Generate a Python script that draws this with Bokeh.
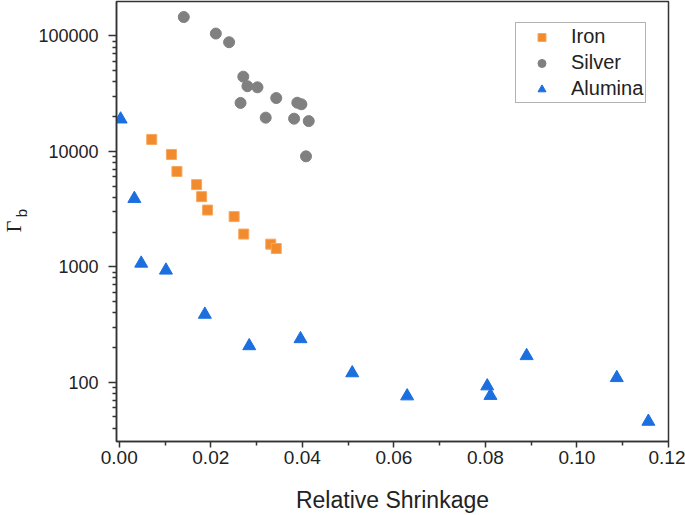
from bokeh.plotting import figure
from bokeh.models import (Range1d, FixedTicker, PrintfTickFormatter, LogAxis,
                          Legend, LegendItem)
from bokeh.embed import file_html
from bokeh.resources import INLINE

# ---- data ----
iron_x = [0.0071, 0.0114, 0.0126, 0.0169, 0.0180, 0.0193, 0.0251, 0.0272, 0.0331, 0.0343]
iron_y = [12700, 9400, 6700, 5150, 4050, 3100, 2720, 1920, 1570, 1440]

silver_x = [0.0141, 0.0211, 0.0240, 0.0271, 0.0280, 0.0302, 0.0265, 0.0343,
            0.0389, 0.0398, 0.0320, 0.0382, 0.0414, 0.0408]
silver_y = [146000, 105000, 88300, 44400, 36700, 35900, 26300, 29000,
            26400, 25600, 19600, 19200, 18300, 9060]

alumina_x = [0.0003, 0.0033, 0.0048, 0.0102, 0.0187, 0.0284, 0.0396, 0.0509,
             0.0629, 0.0804, 0.0811, 0.0890, 0.1087, 0.1156]
alumina_y = [19000, 3890, 1070, 931, 386, 206, 237, 120,
             75.7, 92.4, 76.4, 169, 109, 45.6]

series_names = ["Iron", "Silver", "Alumina"]
x_major = [0.0, 0.02, 0.04, 0.06, 0.08, 0.10, 0.12]
x_minor = [0.01, 0.03, 0.05, 0.07, 0.09, 0.11]
y_major = [100, 1000, 10000, 100000]
y_minor = [m * 10 ** e for e in range(1, 5) for m in range(2, 10) if 30 <= m * 10 ** e <= 199000]

x_title = "Relative Shrinkage"
y_title_main = "Γ\u00a0\u00a0"
y_title_sub = "\u00a0\u00a0\u00a0\u00a0b"

W, H = 685, 515
p = figure(width=W, height=H, y_axis_type="log",
           x_range=Range1d(-0.0006, 0.12), y_range=Range1d(30.6, 199000),
           output_backend="svg", toolbar_location=None,
           min_border_left=116, min_border_right=17, min_border_top=1,
           min_border_bottom=72)

p.xgrid.visible = False
p.ygrid.visible = False
p.outline_line_color = "#333333"
p.outline_line_width = 1.5

r_iron = p.scatter(iron_x, iron_y, marker="square", size=10,
                   fill_color="#F28A2E", line_color="#F6A85E", line_width=1)
r_silver = p.scatter(silver_x, silver_y, marker="circle", size=11,
                     fill_color="#808080", line_color="#808080")
r_alu = p.scatter(alumina_x, alumina_y, marker="triangle", size=13,
                  fill_color="#1B6FDF", line_color="#1B6FDF")

font = "Liberation Sans"
for ax in (p.xaxis[0], p.yaxis[0]):
    ax.axis_line_color = "#333333"
    ax.axis_line_width = 1.5
    ax.major_tick_line_color = "#333333"
    ax.major_tick_line_width = 1.5
    ax.minor_tick_line_color = "#333333"
    ax.minor_tick_line_width = 1.5
    ax.major_tick_in = 0
    ax.minor_tick_in = 0
    ax.major_label_text_font = font
    ax.major_label_text_color = "#222222"
    ax.axis_label_text_font_style = "normal"
    ax.axis_label_text_color = "#222222"

xa = p.xaxis[0]
xa.ticker = FixedTicker(ticks=x_major, minor_ticks=x_minor)
xa.formatter = PrintfTickFormatter(format="%.2f")
xa.major_label_text_font_size = "19px"
xa.major_tick_out = 6
xa.minor_tick_out = 4
xa.major_label_standoff = 3
xa.axis_label = x_title
xa.axis_label_text_font = font
xa.axis_label_text_font_size = "23px"
xa.axis_label_standoff = 20

ya = p.yaxis[0]
ya.ticker = FixedTicker(ticks=y_major, minor_ticks=y_minor)
ya.formatter = PrintfTickFormatter(format="%d")
ya.major_label_text_font_size = "18px"
ya.major_tick_out = 8
ya.minor_tick_out = 4
ya.major_label_standoff = 10
ya.axis_label = y_title_main
ya.axis_label_text_font = "Liberation Serif"
ya.axis_label_text_font_size = "20px"
ya.axis_label_standoff = 10

# subscript "b" of the y title, carried by an otherwise invisible outer axis
sub_axis = LogAxis(ticker=FixedTicker(ticks=[]), axis_label=y_title_sub,
                   axis_label_standoff=-29, axis_label_text_font=font,
                   axis_label_text_font_size="15px",
                   axis_label_text_font_style="normal",
                   axis_label_text_color="#222222",
                   axis_line_color=None, major_tick_line_color=None,
                   minor_tick_line_color=None, major_label_text_color=None)
p.add_layout(sub_axis, "left")

legend = Legend(items=[LegendItem(label=series_names[0], renderers=[r_iron]),
                       LegendItem(label=series_names[1], renderers=[r_silver]),
                       LegendItem(label=series_names[2], renderers=[r_alu])],
                location=(399, 338))
legend.label_text_font = font
legend.label_text_font_size = "20px"
legend.label_text_color = "#222222"
legend.glyph_width = 47
legend.glyph_height = 20
legend.label_height = 20
legend.spacing = 3
legend.padding = 2
legend.label_standoff = 6
legend.border_line_color = "#666666"
legend.border_line_width = 1
legend.margin = 0
p.add_layout(legend)

open("out.html", "w").write(file_html(p, INLINE))
